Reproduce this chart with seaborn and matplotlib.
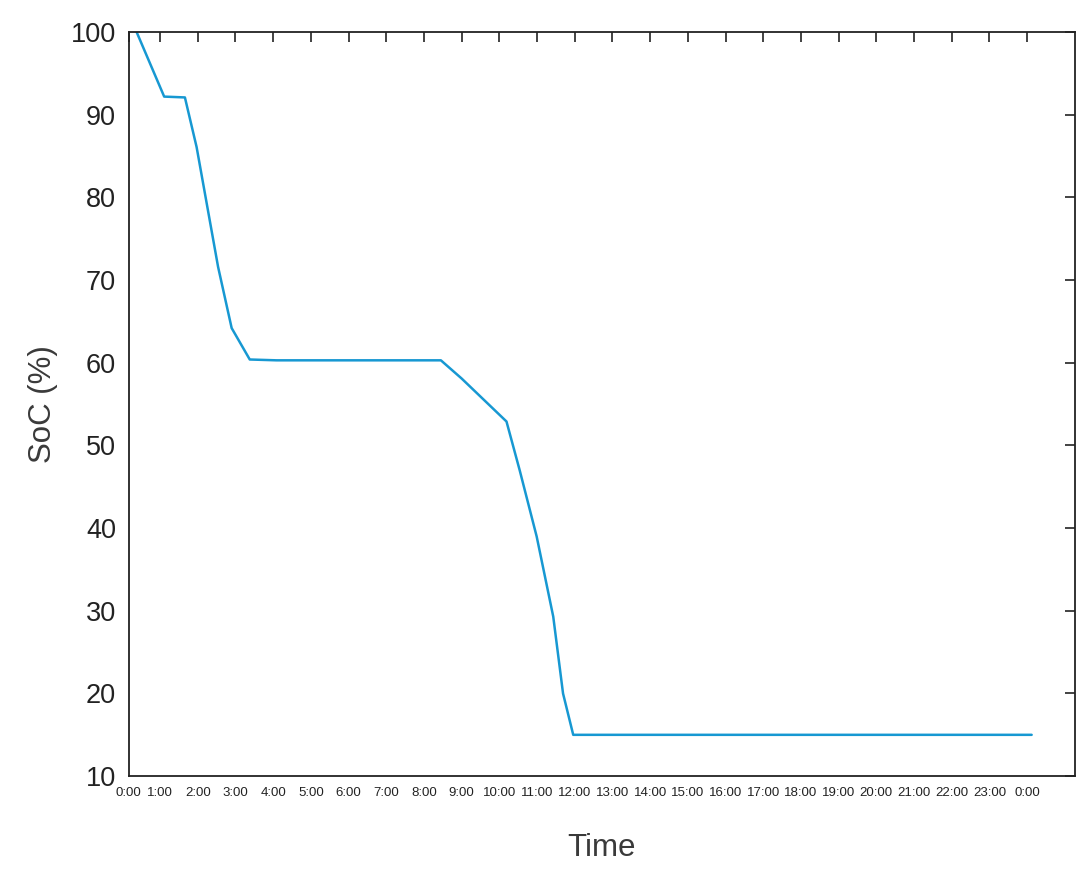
import matplotlib
matplotlib.use("Agg")
import matplotlib.pyplot as plt
import seaborn as sns
import pandas as pd
import numpy as np

# Data (hours since 0:00, SoC %)
hours = [0.38, 1.11, 1.66, 1.97, 2.54, 2.90, 3.38, 4.09, 8.45, 9.00, 10.19,
         10.54, 10.99, 11.43, 11.69, 11.96, 24.12]
soc = [100.0, 92.2, 92.1, 86.1, 71.6, 64.2, 60.4, 60.3, 60.3, 58.1, 52.9,
       47.0, 39.0, 29.3, 20.0, 15.0, 15.0]
tick_hours = list(range(0, 25))
tick_labels = [f"{h % 24}:00" for h in tick_hours]
y_ticks = [10, 20, 30, 40, 50, 60, 70, 80, 90, 100]

df = pd.DataFrame({"Time": hours, "SoC": soc})

sns.set_style("white")
plt.rcParams['font.family'] = ['Liberation Sans', 'DejaVu Sans']

fig = plt.figure(figsize=(10.91, 8.8), dpi=100)
ax = fig.add_axes([0.118, 0.118, 0.867, 0.8455])

sns.lineplot(data=df, x="Time", y="SoC", ax=ax, color="#1798d2", linewidth=1.8)

ax.set_xlim(0.17, 25.26)
ax.set_ylim(10, 100)
tick_pos = [max(t, 0.17) for t in tick_hours]
ax.set_xticks(tick_pos)
ax.set_xticklabels(tick_labels, fontsize=9.5, color="#222222")
ax.set_yticks(y_ticks)
ax.set_yticklabels([str(v) for v in y_ticks], fontsize=19.5, color="#3a3a3a")

ax.tick_params(direction='in', length=7, width=1.2, top=True, right=True,
               colors="#222222")
ax.tick_params(axis='x', pad=8)
ax.tick_params(axis='y', pad=9)
for s in ax.spines.values():
    s.set_visible(True)
    s.set_color("#222222")
    s.set_linewidth(1.3)

ax.set_xlabel("Time", fontsize=22.5, color="#3a3a3a", labelpad=24)
ax.set_ylabel("SoC (%)", fontsize=22.5, color="#3a3a3a", labelpad=9)

fig.savefig("out.png", dpi=100)
